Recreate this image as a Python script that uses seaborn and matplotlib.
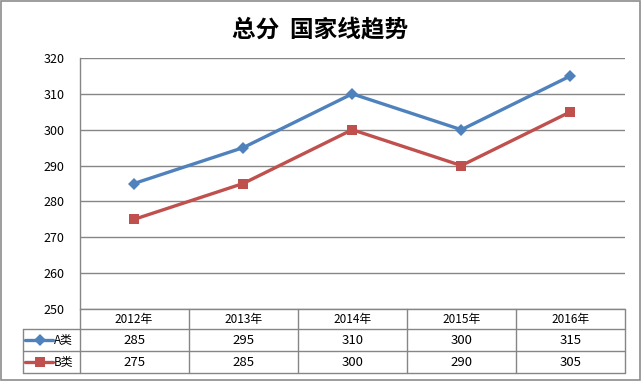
import matplotlib
matplotlib.use('Agg')
import matplotlib.pyplot as plt
import seaborn as sns
import pandas as pd
from matplotlib.lines import Line2D
from matplotlib.patches import Rectangle

# data
years = ['2012年', '2013年', '2014年', '2015年', '2016年']
series_names = ['A类', 'B类']
a_scores = [285, 295, 310, 300, 315]
b_scores = [275, 285, 300, 290, 305]
y_ticks = [250, 260, 270, 280, 290, 300, 310, 320]
title = '总分  国家线趋势'

colors = {'A类': '#4F81BD', 'B类': '#C0504D'}
markers = {'A类': 'D', 'B类': 's'}
marker_sizes = {'A类': 6, 'B类': 7}

sns.set_theme(style='white')
plt.rcParams['font.family'] = ['Noto Sans CJK SC', 'DejaVu Sans']

W, H = 641, 381
fig = plt.figure(figsize=(W / 100, H / 100), dpi=100)
fig.patch.set_facecolor('white')


def fx(px):
    return px / W


def fy(py):
    return 1 - py / H


# outer border
fig.add_artist(Rectangle((fx(0.5), fy(379.5)), fx(639.5), (379) / H,
                         transform=fig.transFigure, fill=False,
                         edgecolor='#8c8c8c', linewidth=1.2))

fig.text(0.5, fy(29), title, ha='center', va='center', fontsize=17,
         fontweight='bold', color='black')

# plot area
left, right, top, bottom = 79.5, 625, 58, 309
ax = fig.add_axes([fx(left), fy(bottom), fx(right - left), (bottom - top) / H])

df = pd.DataFrame({'year': years * 2,
                   'series': ['A类'] * 5 + ['B类'] * 5,
                   'score': a_scores + b_scores})
df['x'] = list(range(len(years))) * 2

for name in series_names:
    sub = df[df['series'] == name]
    sns.lineplot(data=sub, x='x', y='score', ax=ax, color=colors[name],
                 linewidth=2.4, marker=markers[name],
                 markersize=marker_sizes[name], markeredgewidth=0,
                 legend=False)

ax.set_xlim(-0.5, len(years) - 0.5)
ax.set_ylim(250, 320)
ax.set_yticks(y_ticks)
ax.set_xticks([])
ax.set_xlabel('')
ax.set_ylabel('')
ax.tick_params(axis='y', length=0, pad=11, labelsize=9, colors='black')
ax.yaxis.grid(True, color='#868686', linewidth=1)
ax.set_axisbelow(True)
for s in ['top', 'right', 'bottom']:
    ax.spines[s].set_visible(False)
ax.spines['left'].set_color('#868686')
ax.spines['left'].set_linewidth(1)

# data table
tax = fig.add_axes([0, 0, 1, 1], facecolor='none')
tax.set_xlim(0, W)
tax.set_ylim(H, 0)
tax.axis('off')

line_kw = dict(color='#868686', linewidth=1)
col_w = (right - left) / len(years)
row_y = [309, 329, 351, 373]
key_left = 22.5

# horizontal lines
tax.plot([left, right], [row_y[0], row_y[0]], **line_kw)
for yy in row_y[1:]:
    tax.plot([key_left, right], [yy, yy], **line_kw)
# vertical lines
for i in range(len(years) + 1):
    xx = left + i * col_w
    tax.plot([xx, xx], [row_y[0], row_y[3]], **line_kw)
tax.plot([key_left, key_left], [row_y[1], row_y[3]], **line_kw)

for i, yr in enumerate(years):
    cx = left + (i + 0.5) * col_w
    tax.text(cx, (row_y[0] + row_y[1]) / 2, yr, ha='center', va='center',
             fontsize=8.5, color='black')
    tax.text(cx, (row_y[1] + row_y[2]) / 2, str(a_scores[i]), ha='center',
             va='center', fontsize=9.5, color='black')
    tax.text(cx, (row_y[2] + row_y[3]) / 2, str(b_scores[i]), ha='center',
             va='center', fontsize=9.5, color='black')

for j, name in enumerate(series_names):
    cy = (row_y[j + 1] + row_y[j + 2]) / 2
    tax.add_line(Line2D([25, 53], [cy, cy], color=colors[name], linewidth=2.4))
    tax.add_line(Line2D([39.5], [cy], color=colors[name], marker=markers[name],
                        markersize=marker_sizes[name], markeredgewidth=0))
    tax.text(54, cy, name, ha='left', va='center', fontsize=8.5, color='black')

fig.savefig('out.png', dpi=100)
